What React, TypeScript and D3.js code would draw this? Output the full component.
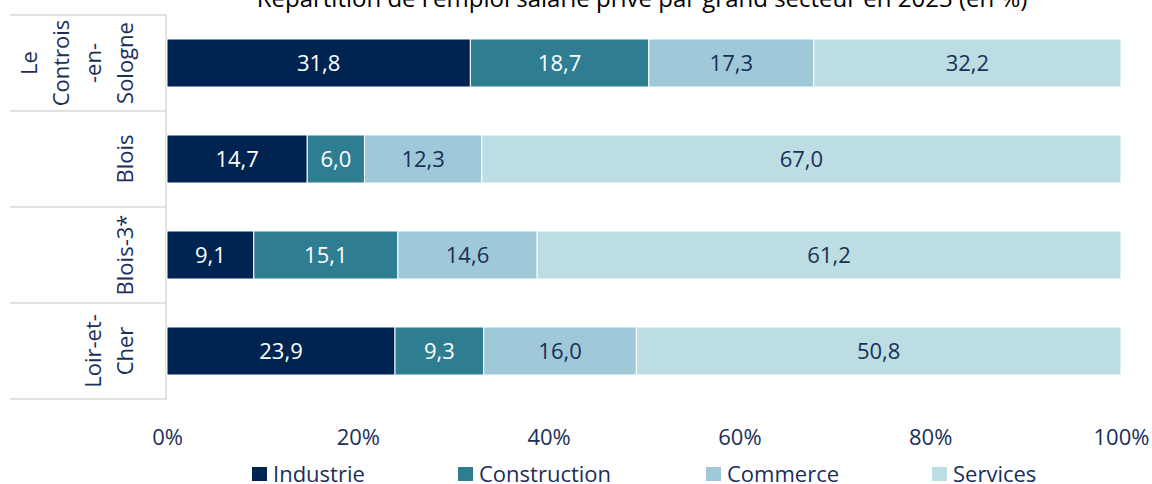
import React, { useEffect, useRef } from 'react';
import * as d3 from 'd3';

const categories = ['Le Controis-en-Sologne', 'Blois', 'Blois-3*', 'Loir-et-Cher'];
const categoryLines = [['Le', 'Controis', '-en-', 'Sologne'], ['Blois'], ['Blois-3*'], ['Loir-et-', 'Cher']];
const sectors = ['Industrie', 'Construction', 'Commerce', 'Services'];
const industrie = [31.8, 14.7, 9.1, 23.9];
const construction = [18.7, 6.0, 15.1, 9.3];
const commerce = [17.3, 12.3, 14.6, 16.0];
const services = [32.2, 67.0, 61.2, 50.8];
const xTicks = [0, 20, 40, 60, 80, 100];
const colors = ['#002452', '#2e7d91', '#9fc8d9', '#bcdde2'];
const labelColors = ['#ffffff', '#ffffff', '#1a2f5a', '#1a2f5a'];
const title = "Répartition de l'emploi salarié privé par grand secteur en 2023 (en %)";

const font = "'Open Sans', sans-serif";

const App = () => {
  const svgRef = useRef<SVGSVGElement>(null);

  useEffect(() => {
    const svg = d3.select(svgRef.current);
    svg.selectAll('*').remove();

    const width = 1152;
    const height = 484;
    const left = 167;
    const right = 1121;
    const top = 15;
    const bottom = 399;

    svg.attr('width', width).attr('height', height)
      .style('display', 'block')
      .style('position', 'absolute')
      .style('left', '0px')
      .style('top', '0px');

    const rows = categories.map((c, i) => ({
      name: c,
      Industrie: industrie[i],
      Construction: construction[i],
      Commerce: commerce[i],
      Services: services[i],
    }));

    const stacked = d3.stack<any>().keys(sectors)(rows);

    const x = d3.scaleLinear().domain([0, 100]).range([left, right]);
    const y = d3.scaleBand().domain(categories).range([top, bottom]).paddingInner(0.5).paddingOuter(0.25);

    // title (partly cut at top, as in the source)
    svg.append('text')
      .attr('x', 642)
      .attr('y', 7)
      .attr('text-anchor', 'middle')
      .attr('font-family', font)
      .attr('font-size', 24)
      .attr('fill', '#000')
      .text(title);

    // category separators
    const step = y.step();
    const seps = d3.range(categories.length + 1).map(i => top + i * step);
    svg.append('g').selectAll('line')
      .data(seps)
      .enter().append('line')
      .attr('x1', 10).attr('x2', left)
      .attr('y1', d => d).attr('y2', d => d)
      .attr('stroke', '#d9d9d9').attr('stroke-width', 1.5);
    svg.append('line')
      .attr('x1', left - 1).attr('x2', left - 1)
      .attr('y1', top).attr('y2', bottom)
      .attr('stroke', '#d9d9d9').attr('stroke-width', 1.5);

    // category labels, rotated
    const lineH = 32;
    categories.forEach((c, i) => {
      const lines = categoryLines[i];
      const cy = (y(c) as number) + y.bandwidth() / 2;
      lines.forEach((l, j) => {
        const xx = 133 - (lines.length - 1 - j) * lineH;
        svg.append('text')
          .attr('transform', `translate(${xx},${cy}) rotate(-90)`)
          .attr('text-anchor', 'middle')
          .attr('font-family', font)
          .attr('font-size', 22)
          .attr('fill', '#1a2f5a')
          .text(l);
      });
    });

    // bars
    const groups = svg.append('g').selectAll('g')
      .data(stacked)
      .enter().append('g')
      .attr('fill', (d, i) => colors[i]);

    groups.selectAll('rect')
      .data(d => d.map(v => ({ v, key: d.key })))
      .enter().append('rect')
      .attr('x', d => x(d.v[0]))
      .attr('width', d => x(d.v[1]) - x(d.v[0]))
      .attr('y', d => y(d.v.data.name) as number)
      .attr('height', y.bandwidth())
      .attr('stroke', '#ffffff')
      .attr('stroke-width', 1);

    groups.selectAll('text')
      .data((d, i) => d.map(v => ({ v, i })))
      .enter().append('text')
      .attr('x', d => (x(d.v[0]) + x(d.v[1])) / 2)
      .attr('y', d => (y(d.v.data.name) as number) + y.bandwidth() / 2)
      .attr('dy', '0.35em')
      .attr('text-anchor', 'middle')
      .attr('font-family', font)
      .attr('font-size', 22)
      .attr('fill', d => labelColors[d.i])
      .text(d => d3.format('.1f')(d.v[1] - d.v[0]).replace('.', ','));

    // x axis
    const axis = svg.append('g')
      .attr('transform', `translate(0, 430)`)
      .call(d3.axisBottom(x).tickValues(xTicks).tickSize(0).tickFormat(d => `${d}%`));
    axis.select('.domain').remove();
    axis.selectAll('text')
      .attr('font-family', font)
      .attr('font-size', 22)
      .attr('fill', '#1a2f5a')
      .attr('dy', '0.35em')
      .attr('y', 7);

    // legend
    const legendX = [252, 458, 706, 932];
    const legend = svg.append('g').selectAll('g')
      .data(sectors)
      .enter().append('g')
      .attr('transform', (d, i) => `translate(${legendX[i]}, 467)`);
    legend.append('rect')
      .attr('width', 15).attr('height', 14)
      .attr('fill', (d, i) => colors[i]);
    legend.append('text')
      .attr('x', 21)
      .attr('y', 7)
      .attr('dy', '0.35em')
      .attr('font-family', font)
      .attr('font-size', 22)
      .attr('fill', '#1a2f5a')
      .text(d => d);
  }, []);

  return <svg ref={svgRef}></svg>;
};

export default App;
